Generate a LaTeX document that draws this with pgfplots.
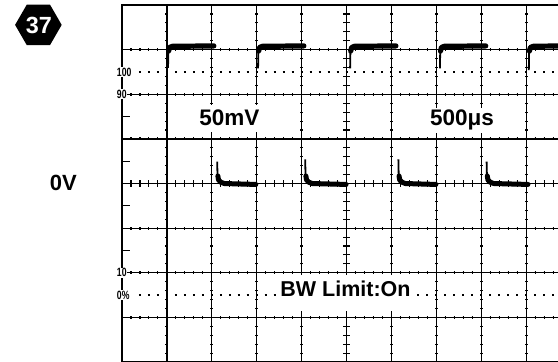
\documentclass[border=0pt]{standalone}
\usepackage{fontspec}
\setmainfont{Liberation Sans}
\usepackage{graphicx}
\usepackage{pgfplots}
\pgfplotsset{compat=1.18}
\usetikzlibrary{shapes.geometric}

\pgfplotstableread{
x y
-3.962 2.97
-3.94 3.05
-3.88 3.075
-2.955 3.085
nan nan
-1.957 2.97
-1.935 3.05
-1.875 3.075
-0.95 3.085
nan nan
0.093 2.97
0.115 3.05
0.175 3.075
1.10 3.085
nan nan
2.093 2.97
2.115 3.05
2.175 3.075
3.10 3.085
nan nan
4.073 2.97
4.095 3.05
4.155 3.075
4.75 3.085
}\highflat

\pgfplotstableread{
x y
-3.975 2.59
-3.968 2.98
nan nan
-1.97 2.58
-1.963 2.98
nan nan
0.08 2.58
0.087 2.98
nan nan
2.08 2.58
2.087 2.98
nan nan
4.06 2.54
4.067 2.98
}\highspike

\pgfplotstableread{
x y
-2.865 0.17
-2.85 0.08
-2.80 0.03
-2.72 0.00
-2.02 -0.02
nan nan
-0.905 0.17
-0.89 0.08
-0.84 0.03
-0.76 0.00
-0.01 -0.02
nan nan
1.17 0.17
1.185 0.08
1.235 0.03
1.31 0.00
1.99 -0.02
nan nan
3.135 0.17
3.15 0.08
3.20 0.03
3.28 0.00
4.04 -0.02
}\lowflat

\pgfplotstableread{
x y
-2.88 0.49
-2.873 0.18
nan nan
-0.92 0.54
-0.913 0.18
nan nan
1.155 0.54
1.162 0.18
nan nan
3.12 0.49
3.127 0.18
}\lowspike

\begin{document}
\begin{tikzpicture}
\begin{axis}[
  scale only axis, width=558pt, height=362pt,
  xmin=-7.717, xmax=4.71, ymin=-4.0, ymax=4.114,
  axis lines=none, clip=true, unbounded coords=jump,
]
\coordinate (bl) at (rel axis cs:0,0);
\coordinate (tr) at (rel axis cs:1,1);
% vertical grid lines with beads
\pgfplotsinvokeforeach{-4,-3,-2,-1,1,2,3,4}{
  \draw[line width=1.2pt] (#1,-4.1) -- (#1,4.0);
  \draw[line width=3pt, dash pattern=on 1.1pt off 7.823pt] (#1,-4.0123) -- (#1,4.0);
}
% horizontal grid lines with beads
\pgfplotsinvokeforeach{-3,-2,-1,1,2,3}{
  \draw[line width=1.2pt] (-5,#1) -- (4.8,#1);
  \draw[line width=3pt, dash pattern=on 1.1pt off 7.88pt] (-5.0122,#1) -- (4.8,#1);
}
% center lines
\draw[line width=1.3pt] (0,-4.1) -- (0,4.0);
\draw[line width=7.5pt, dash pattern=on 1.1pt off 7.823pt] (0,-4.0123) -- (0,4.0);
\draw[line width=1.3pt] (-5,0) -- (4.8,0);
\draw[line width=7.5pt, dash pattern=on 1.1pt off 7.88pt] (-5.0122,0) -- (4.8,0);
% frame
\draw[line width=1.9pt] (-5,-4.1) -- (-5,4.0);
\draw[line width=1.9pt] (-5.02,4.0) -- (4.8,4.0);
\draw[line width=1.5pt] (-5,-4.0) -- (4.8,-4.0);
% half-division marks on left edge
\pgfplotsinvokeforeach{1.5,0.5,-0.5,-1.5}{
  \draw[line width=1.3pt] (-5,#1) -- (-4.82,#1);
}
% dotted 100% and 0% lines
\draw[line width=2pt, dash pattern=on 2pt off 6.98pt] (-4.6223,2.5) -- (4.8,2.5);
\draw[line width=2pt, dash pattern=on 2pt off 6.98pt] (-4.6223,-2.5) -- (4.8,-2.5);
% percent labels
\node[anchor=west, fill=white, inner sep=0.6pt, font=\fontsize{12}{12}\selectfont\bfseries] at (-5.13,2.5) {\scalebox{0.72}[1]{100}};
\node[anchor=west, fill=white, inner sep=0.6pt, font=\fontsize{12}{12}\selectfont\bfseries] at (-5.13,2.0) {\scalebox{0.72}[1]{90}};
\node[anchor=west, fill=white, inner sep=0.6pt, font=\fontsize{12}{12}\selectfont\bfseries] at (-5.13,-2.0) {\scalebox{0.72}[1]{10}};
\node[anchor=west, fill=white, inner sep=0.6pt, font=\fontsize{12}{12}\selectfont\bfseries] at (-5.13,-2.5) {\scalebox{0.72}[1]{0\%}};
% traces
\addplot[black, line width=5.2pt, line cap=round, line join=round] table {\highflat};
\addplot[black, line width=1.8pt] table {\highspike};
\addplot[black, line width=5pt, line cap=round, line join=round] table {\lowflat};
\addplot[black, line width=1.8pt] table {\lowspike};
% text
\node[anchor=base west, fill=white, inner xsep=1.5pt, inner ysep=0pt, text height=20.7pt, text depth=6pt,
  font=\fontsize{22.5}{22.5}\selectfont\bfseries] at (-3.316,1.296) {50mV};
\node[anchor=base west, fill=white, inner xsep=1.5pt, inner ysep=0pt, text height=17.7pt, text depth=7.3pt,
  font=\fontsize{22.5}{22.5}\selectfont\bfseries] at (1.822,1.296) {500μs};
\node[anchor=base west, fill=white, inner xsep=1.5pt, inner ysep=0pt, text height=21.7pt, text depth=14.3pt,
  font=\fontsize{21.5}{21.5}\selectfont\bfseries] at (-1.510,-2.538) {BW Limit:On};
\node[anchor=base west, inner sep=0pt, font=\fontsize{22}{22}\selectfont\bfseries] at (-6.608,-0.161) {0V};
% badge
\node[regular polygon, regular polygon sides=6, fill=black, minimum size=46.6pt, inner sep=0pt] at (-6.862,3.556) {};
\node[text=white, inner sep=0pt, font=\fontsize{23.4}{23.4}\selectfont\bfseries] at (-6.849,3.554) {37};
\end{axis}
\pgfresetboundingbox
\useasboundingbox (bl) rectangle (tr);
\end{tikzpicture}
\end{document}
